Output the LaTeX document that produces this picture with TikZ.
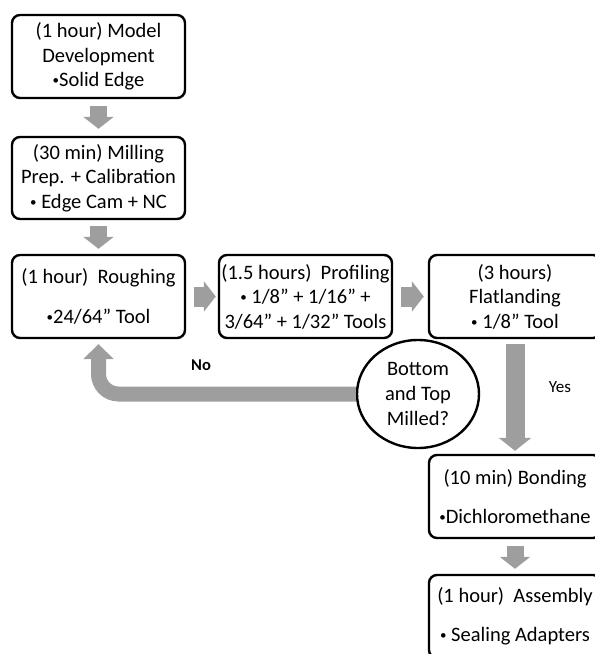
\documentclass[tikz,border=0pt]{standalone}
\usepackage{fontspec}
\setmainfont{Carlito}
\usetikzlibrary{arrows.meta,shapes.geometric}
\definecolor{arrowgray}{HTML}{9E9E9E}
\newcommand\bul{\raisebox{2pt}{\fontsize{13}{13}\selectfont•}}
\tikzset{
  box/.style={draw=black, line width=2.4pt, rounded corners=8pt, rectangle,
    minimum width=173pt, minimum height=83pt, inner sep=0pt, align=center,
    font=\fontsize{20.5}{24.5}\selectfont},
  decision/.style={draw=black, line width=2.4pt, ellipse, minimum width=122pt,
    minimum height=108pt, inner sep=0pt, align=center,
    font=\fontsize{20.5}{25}\selectfont},
  blk/.style={draw=arrowgray, line width=17pt,
    -{Triangle[width=30pt,length=12pt]}},
  lbl/.style={font=\fontsize{17}{20}\selectfont}
}
\begin{document}
\begin{tikzpicture}[x=1pt,y=-1pt]
\useasboundingbox (0,0) rectangle (595,654);
\clip (0,0) rectangle (595,654);
\node[box] (b1) at (98.5,56.5) {(1 hour) Model\\Development\\\bul Solid Edge};
\node[box, minimum height=82pt] (b2) at (98.5,178) {(30 min) Milling\\Prep. + Calibration\\\bul{} Edge Cam + NC};
\node[box] (b3) at (98.5,296.5) {(1 hour)~ Roughing\\[16pt]\bul 24/64” Tool};
\node[box] (b4) at (305.5,296.5) {(1.5 hours)~ Profiling\\\bul{} 1/8” + 1/16” +\\3/64” + 1/32” Tools};
\node[box, minimum width=172pt] (b5) at (515,296.5) {(3 hours)\\Flatlanding\\\bul{} 1/8” Tool};
\node[decision] (dec) at (418,394) {Bottom\\and Top\\Milled?};
\node[box, minimum width=172pt] (b6) at (515,496.5) {(10 min) Bonding\\[15pt]\bul Dichloromethane};
\node[box, minimum width=172pt] (b7) at (515,616.5) {(1 hour)~ Assembly\\[15pt]\bul{} Sealing Adapters};
\node[font=\fontsize{16.5}{20}\selectfont\bfseries] (no) at (201,365) {No};
\node[lbl] (yes) at (560,387) {Yes};
\coordinate (corner) at (b3.south |- dec.west);
\draw[blk] ([yshift=-7pt]b1.south) -- ([yshift=7pt]b2.north);
\draw[blk] ([yshift=-6pt]b2.south) -- ([yshift=5pt]b3.north);
\draw[blk, line width=20pt] ([xshift=8pt]b3.east) -- ([xshift=-2pt]b4.west);
\draw[blk, line width=20pt] ([xshift=8pt]b4.east) -- ([xshift=-4pt]b5.west);
\draw[blk, line width=19pt, -{Triangle[width=32pt,length=13pt]}] ([yshift=-5pt]b5.south) -- ([yshift=3pt]b6.north);
\draw[blk] ([yshift=-7pt]b6.south) -- ([yshift=5pt]b7.north);
\draw[blk, line width=15pt, rounded corners=20pt, -{Triangle[width=30pt,length=15pt]}]
  (dec.west) -- (corner) -- ([yshift=-5pt]b3.south);
\end{tikzpicture}
\end{document}
